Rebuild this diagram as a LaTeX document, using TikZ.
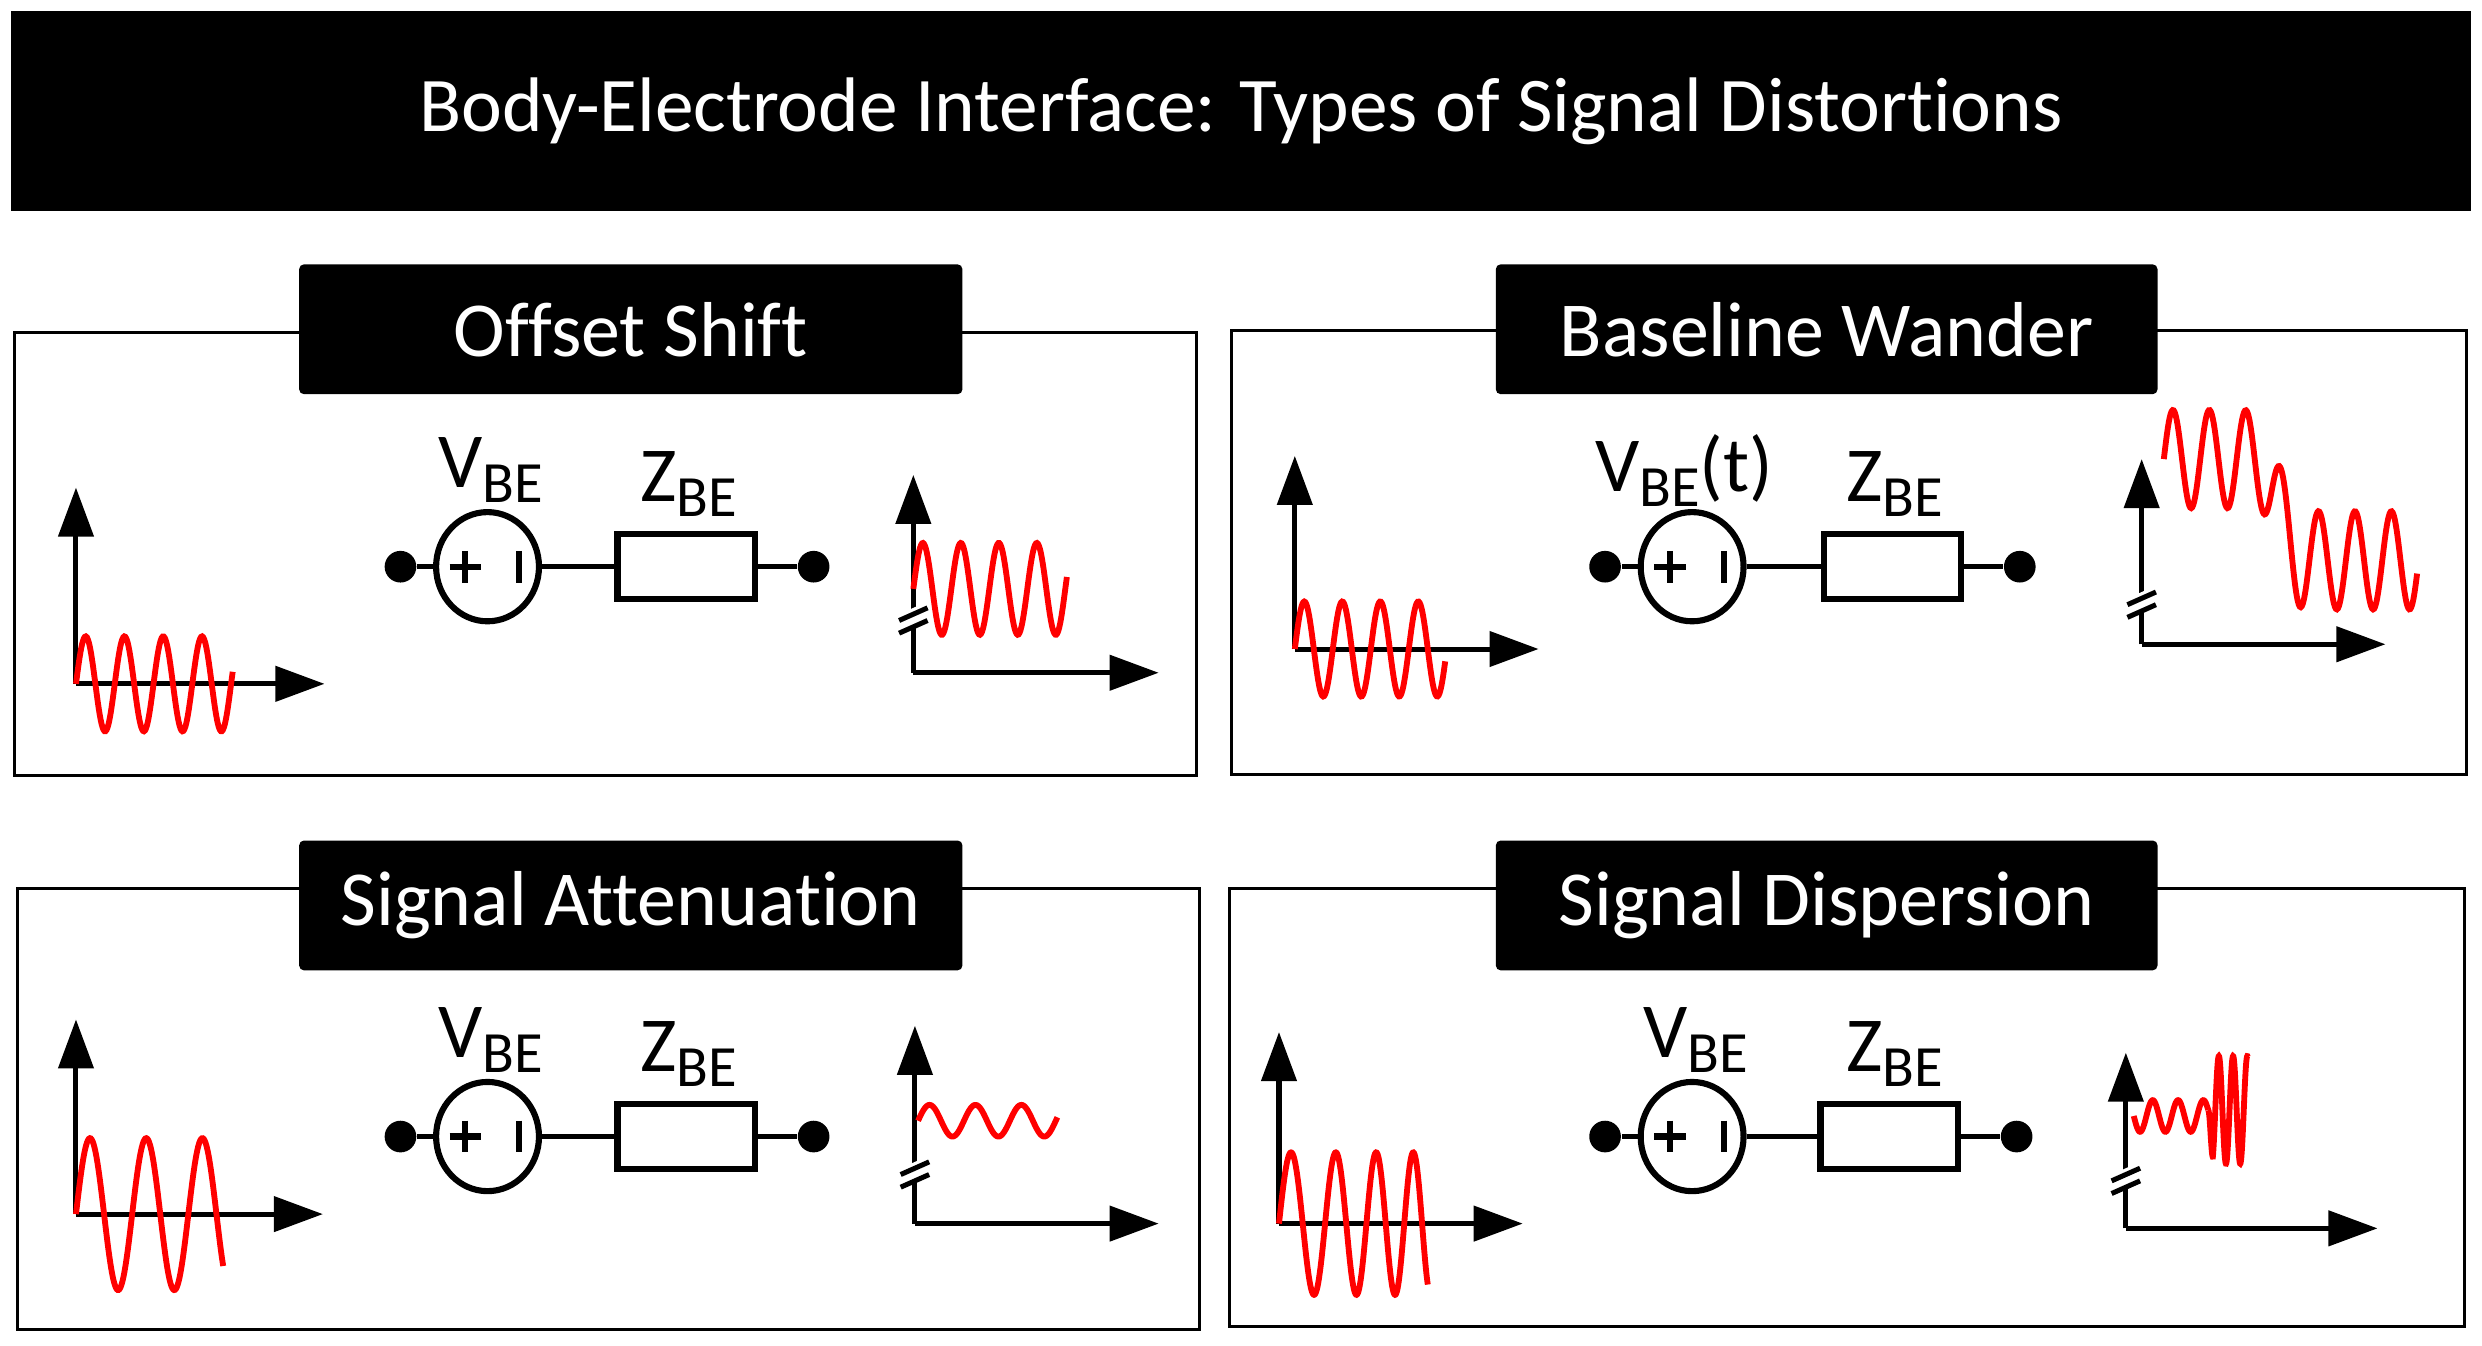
\documentclass[tikz,border=0pt]{standalone}
\usepackage{fontspec}
\setmainfont{Carlito}[Ligatures=NoCommon]
\usetikzlibrary{arrows.meta,shapes.geometric}
\newcommand{\sbe}{\raisebox{-0.4ex}{\fontsize{10.5}{10}\selectfont BE}}
\begin{document}
\begin{tikzpicture}[x=0.1mm,y=-0.1mm,
  bar/.style={fill=black,text=white,inner sep=0pt},
  panel/.style={draw=black,line width=0.55pt},
  axis/.style={line width=0.9pt,-{Triangle[length=3.1mm,width=2.2mm]}},
  sig/.style={red,line width=1.05pt,smooth},
  wire/.style={line width=0.9pt},
  dot/.style={circle,fill=black,inner sep=0pt,minimum size=2mm},
  src/.style={ellipse,draw,line width=1.1pt,minimum width=6.5mm,minimum height=6.9mm,inner sep=0pt},
  res/.style={draw,line width=1.1pt,minimum width=8.7mm,minimum height=4.1mm,inner sep=0pt},
  lab/.style={font=\fontsize{14}{14}\selectfont},
  ttl/.style={font=\fontsize{14}{16}\selectfont,text=white}]
\useasboundingbox (0,0) rectangle (1568,850);
% title
\node[bar,minimum width=155.4mm,minimum height=12.6mm,font=\fontsize{13.9}{14}\selectfont] (title) at (784,70) {Body-Electrode Interface: Types of Signal Distortions};
% panels
\draw[panel] (9,210) rectangle (756,490);
\draw[panel] (778,209) rectangle (1558,489);
\draw[panel] (11,561) rectangle (758,840);
\draw[panel] (777,561) rectangle (1557,838);
\node[bar,minimum width=41.9mm,minimum height=8.2mm,ttl,rounded corners=0.3mm] (t1) at (398.5,208) {Offset Shift};
\node[bar,minimum width=41.8mm,minimum height=8.2mm,ttl,rounded corners=0.3mm] (t2) at (1154,208) {Baseline Wander};
\node[bar,minimum width=41.9mm,minimum height=8.2mm,ttl,rounded corners=0.3mm] (t3) at (398.5,572) {Signal Attenuation};
\node[bar,minimum width=41.8mm,minimum height=8.2mm,ttl,rounded corners=0.3mm] (t4) at (1154,572) {Signal Dispersion};

% circuits
\foreach \n/\cx/\cy/\rr in {a/308/358/479, b/1069/358/1241, c/308/718/479, d/1069/718/1239}{
  \node[src] (s\n) at (\cx,\cy) {};
  \node[dot] (l\n) at (\cx-55,\cy) {};
  \node[res,anchor=east] (r\n) at (\rr,\cy) {};
  \node[dot] (e\n) at (\rr+35,\cy) {};
  \draw[wire] (l\n) -- (s\n.west);
  \draw[wire] (s\n.east) -- (r\n.west);
  \draw[wire] (r\n.east) -- (e\n);
  \draw[line width=1.1pt] (\cx-24,\cy) -- (\cx-4,\cy) (\cx-14,\cy-10) -- (\cx-14,\cy+10);
  \draw[line width=1.1pt] (\cx+20,\cy-10) -- (\cx+20,\cy+10);
}
\node[lab] at (310,297) {V\sbe};
\node[lab] at (435,306) {Z\sbe};
\node[lab] at (1064,297) {V\sbe(t)};
\node[lab] at (1197,306) {Z\sbe};
\node[lab] at (310,657) {V\sbe};
\node[lab] at (435,666) {Z\sbe};
\node[lab] at (1071,657) {V\sbe};
\node[lab] at (1197,666) {Z\sbe};

% ---- Offset shift
\coordinate (o1) at (48,432); \coordinate (o1y) at (48,308); \coordinate (o1x) at (205,432);
\draw[axis] (o1) -- (o1y); \draw[axis] (o1) -- (o1x);
\draw[sig] plot[domain=48:147,samples=160] (\x,{432-30*sin((\x-48)/24.5*360)});
\coordinate (o2) at (577,425); \coordinate (o2y) at (577,300); \coordinate (o2x) at (732,425);
\draw[axis] (o2) -- (o2y); \draw[axis] (o2) -- (o2x);
\draw[sig] plot[domain=577:674,samples=160] (\x,{372-29*sin((\x-577)/24*360)});
\fill[white] (568,388) -- (586,380) -- (586,392) -- (568,400) -- cycle;
\draw[line width=0.9pt] (568,392) -- (586,384) (568,400) -- (586,392);

% ---- Baseline wander
\coordinate (o3) at (818,410); \coordinate (o3y) at (818,288); \coordinate (o3x) at (972,410);
\draw[axis] (o3) -- (o3y); \draw[axis] (o3) -- (o3x);
\draw[sig] plot[domain=818:913,samples=160] (\x,{410-30*sin((\x-818)/24*360)});
\coordinate (o4) at (1353,407); \coordinate (o4y) at (1353,290); \coordinate (o4x) at (1507,407);
\draw[axis] (o4) -- (o4y); \draw[axis] (o4) -- (o4x);
\draw[sig] plot[domain=1367:1527,samples=260] (\x,{322+32*tanh(max(-4,min(4,(\x-1440)/7)))-31*sin((\x-1367)/23*360)});
\fill[white] (1344,378) -- (1362,370) -- (1362,382) -- (1344,390) -- cycle;
\draw[line width=0.9pt] (1344,382) -- (1362,374) (1344,390) -- (1362,382);

% ---- Attenuation
\coordinate (o5) at (48,767); \coordinate (o5y) at (48,644); \coordinate (o5x) at (204,767);
\draw[axis] (o5) -- (o5y); \draw[axis] (o5) -- (o5x);
\draw[sig] plot[domain=48:141,samples=160] (\x,{767-48*sin((\x-48)/35.5*360)});
\coordinate (o6) at (578,773); \coordinate (o6y) at (578,648); \coordinate (o6x) at (732,773);
\draw[axis] (o6) -- (o6y); \draw[axis] (o6) -- (o6x);
\draw[sig] plot[domain=580:668,samples=160] (\x,{708-10*sin((\x-580)/29*360)});
\fill[white] (569,738) -- (587,730) -- (587,742) -- (569,750) -- cycle;
\draw[line width=0.9pt] (569,742) -- (587,734) (569,750) -- (587,742);

% ---- Dispersion
\coordinate (o7) at (808,773); \coordinate (o7y) at (808,652); \coordinate (o7x) at (962,773);
\draw[axis] (o7) -- (o7y); \draw[axis] (o7) -- (o7x);
\draw[sig] plot[domain=0:94,samples=260] ({808+\x},{773-45*sin((\x/31+\x*\x/14000)*360)});
\coordinate (o8) at (1343,776); \coordinate (o8y) at (1343,665); \coordinate (o8x) at (1502,776);
\draw[axis] (o8) -- (o8y); \draw[axis] (o8) -- (o8x);
\draw[sig] plot[domain=1348:1395,samples=120] (\x,{705+10*sin((\x-1348)/16*360)});
\draw[sig] plot[domain=1395:1420,samples=160] (\x,{705+10*sin(47/16*360)+ 34*sin((\x-1395)/9*360)*min(1,(\x-1395)/3)});
\fill[white] (1334,742) -- (1352,734) -- (1352,746) -- (1334,754) -- cycle;
\draw[line width=0.9pt] (1334,746) -- (1352,738) (1334,754) -- (1352,746);
\end{tikzpicture}
\end{document}
